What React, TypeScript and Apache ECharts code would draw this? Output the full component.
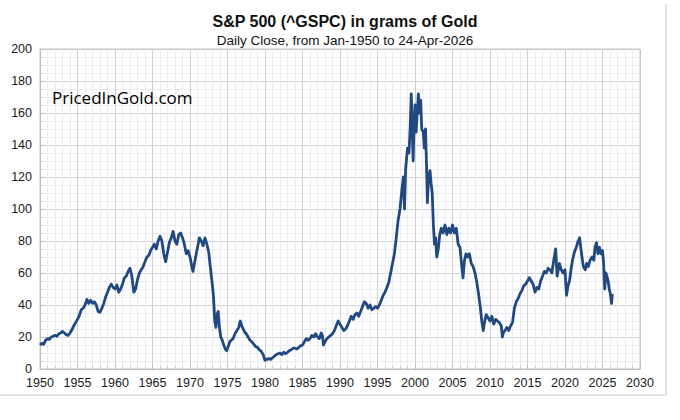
import React, { useEffect, useRef } from "react";
import * as echarts from "echarts";

const TITLE = "S&P 500 (^GSPC) in grams of Gold";
const SUBTITLE = "Daily Close, from Jan-1950 to 24-Apr-2026";
const LOGO = "PricedInGold.com";

const years = [
  1950.0, 1950.25, 1950.5, 1950.75, 1951.0, 1951.25, 1951.5, 1951.75, 1952.0, 1952.25, 1952.5, 1952.75,
  1953.0, 1953.25, 1953.5, 1953.75, 1954.0, 1954.25, 1954.5, 1954.75, 1955.0, 1955.25, 1955.5, 1955.75,
  1956.0, 1956.25, 1956.5, 1956.75, 1957.0, 1957.25, 1957.5, 1957.75, 1958.0, 1958.25, 1958.5, 1958.75,
  1959.0, 1959.25, 1959.5, 1959.75, 1960.0, 1960.25, 1960.5, 1960.75, 1961.0, 1961.25, 1961.5, 1961.75,
  1962.0, 1962.25, 1962.5, 1962.75, 1963.0, 1963.25, 1963.5, 1963.75, 1964.0, 1964.25, 1964.5, 1964.75,
  1965.0, 1965.25, 1965.5, 1965.75, 1966.0, 1966.25, 1966.5, 1966.75, 1967.0, 1967.25, 1967.5, 1967.75,
  1968.0, 1968.25, 1968.5, 1968.75, 1969.0, 1969.25, 1969.5, 1969.75, 1970.0, 1970.25, 1970.4, 1970.75,
  1971.0, 1971.25, 1971.5, 1971.75, 1972.0, 1972.25, 1972.5, 1972.75, 1973.0, 1973.15, 1973.3, 1973.45,
  1973.6, 1973.75, 1973.9, 1974.1, 1974.3, 1974.5, 1974.75, 1974.9, 1975.1, 1975.3, 1975.5, 1975.75,
  1976.0, 1976.25, 1976.5, 1976.7, 1976.9, 1977.1, 1977.3, 1977.5, 1977.75, 1978.0, 1978.25, 1978.5,
  1978.75, 1979.0, 1979.25, 1979.5, 1979.75, 1980.0, 1980.25, 1980.5, 1980.75, 1981.0, 1981.25, 1981.5,
  1981.75, 1982.0, 1982.25, 1982.5, 1982.75, 1983.0, 1983.25, 1983.5, 1983.75, 1984.0, 1984.25, 1984.5,
  1984.75, 1985.0, 1985.25, 1985.5, 1985.75, 1986.0, 1986.25, 1986.5, 1986.75, 1987.0, 1987.25, 1987.5,
  1987.65, 1987.8, 1988.0, 1988.25, 1988.5, 1988.75, 1989.0, 1989.25, 1989.5, 1989.75, 1990.0, 1990.25,
  1990.5, 1990.75, 1991.0, 1991.25, 1991.5, 1991.75, 1992.0, 1992.25, 1992.5, 1992.75, 1993.0, 1993.25,
  1993.5, 1993.75, 1994.0, 1994.25, 1994.5, 1994.75, 1995.0, 1995.25, 1995.5, 1995.75, 1996.0, 1996.25,
  1996.5, 1996.75, 1997.0, 1997.25, 1997.5, 1997.75, 1998.0, 1998.25, 1998.45, 1998.6, 1998.75, 1999.0,
  1999.2, 1999.35, 1999.5, 1999.6, 1999.75, 1999.85, 2000.0, 2000.15, 2000.3, 2000.45, 2000.6, 2000.75,
  2000.9, 2001.1, 2001.25, 2001.4, 2001.55, 2001.65, 2001.8, 2002.0, 2002.15, 2002.3, 2002.45, 2002.6,
  2002.75, 2002.9, 2003.1, 2003.3, 2003.5, 2003.75, 2004.0, 2004.25, 2004.5, 2004.75, 2005.0, 2005.25,
  2005.5, 2005.75, 2006.0, 2006.2, 2006.4, 2006.6, 2006.8, 2007.0, 2007.25, 2007.5, 2007.75, 2008.0,
  2008.25, 2008.5, 2008.7, 2008.9, 2009.1, 2009.3, 2009.5, 2009.75, 2010.0, 2010.25, 2010.5, 2010.75,
  2011.0, 2011.25, 2011.5, 2011.65, 2011.8, 2012.0, 2012.25, 2012.5, 2012.75, 2013.0, 2013.25, 2013.5,
  2013.75, 2014.0, 2014.25, 2014.5, 2014.75, 2015.0, 2015.25, 2015.5, 2015.75, 2016.0, 2016.25, 2016.5,
  2016.75, 2017.0, 2017.25, 2017.5, 2017.75, 2018.0, 2018.25, 2018.5, 2018.75, 2018.95, 2019.25, 2019.5,
  2019.75, 2020.0, 2020.2, 2020.4, 2020.6, 2020.8, 2021.0, 2021.25, 2021.5, 2021.75, 2021.95, 2022.2,
  2022.45, 2022.7, 2022.9, 2023.1, 2023.35, 2023.6, 2023.85, 2024.0, 2024.2, 2024.4, 2024.6, 2024.8,
  2025.0, 2025.15, 2025.3, 2025.45, 2025.6, 2025.75, 2025.9, 2026.05, 2026.2, 2026.31,
];

const grams = [
  15, 16, 15.5, 18, 19, 18.5, 20, 20.5, 21, 20.5, 22, 22.5,
  23.5, 22.5, 21.5, 21, 22.5, 24.5, 27, 29, 31, 33.5, 37, 38,
  40, 43.5, 41, 43, 41, 42, 40, 36, 35.5, 38, 41, 45,
  48, 51, 53, 51, 50, 52.5, 48, 50, 53, 57, 58, 61,
  63, 58, 48, 50, 56, 60, 62, 64, 67, 70, 71, 74,
  76, 78, 75, 80, 83, 80, 72, 67, 73, 79, 82, 86,
  80, 78, 84, 85, 82, 78, 72, 74, 70, 64, 61, 70,
  76, 82, 80, 77, 82, 78, 73, 62, 52, 44, 30, 26,
  34, 36, 27, 20, 18, 15, 12, 11.5, 14, 17, 18, 19,
  22, 24, 26, 30, 27, 25, 23, 22, 20, 18, 17, 15.5,
  14, 13.5, 12, 11, 9, 5.5, 6, 6.5, 6, 7, 8, 9,
  9.5, 10, 9, 10.5, 9.5, 10.5, 11.5, 12, 13, 13, 12.5, 13.5,
  14.5, 15, 17, 19, 18, 19, 21, 20, 22, 20, 19, 22.5,
  21, 15, 17, 19, 20, 21, 22, 24, 27, 30, 28, 26,
  24, 25, 27, 30, 33, 31, 34, 35, 33, 36, 39, 42,
  41, 38, 40, 37, 38, 39, 38, 40, 43, 46, 48, 51,
  54, 60, 66, 72, 82, 93, 100, 112, 120, 100, 125, 138,
  135, 150, 172, 155, 130, 150, 165, 148, 160, 172, 160, 168,
  150, 148, 138, 150, 125, 104, 118, 124, 116, 110, 90, 78,
  82, 70, 75, 84, 88, 85, 90, 84, 88, 85, 90, 85,
  88, 78, 76, 66, 57, 68, 72, 70, 72, 66, 64, 60,
  54, 46, 39, 30, 24, 30, 34, 32, 30, 33, 28, 31,
  30, 29, 27, 20, 23, 24, 26, 24, 27, 29, 38, 42,
  44, 47, 49, 52, 53, 55, 57, 55, 53, 48, 51, 50,
  55, 58, 61, 60, 63, 62, 60, 68, 75, 58, 66, 62,
  60, 62, 46, 52, 55, 62, 68, 73, 76, 80, 82, 72,
  64, 62, 66, 64, 68, 70, 68, 76, 79, 72, 76, 72,
  74, 66, 50, 60, 58, 55, 50, 47, 41, 47,
];

const X_MIN = 1950;
const X_MAX = 2030;
const X_STEP = 5;
const Y_MIN = 0;
const Y_MAX = 200;
const Y_STEP = 20;

export default function App() {
  const ref = useRef<HTMLDivElement>(null);
  useEffect(() => {
    document.body.style.margin = "0";
    if (!ref.current) return;
    const chart = echarts.init(ref.current, undefined, { renderer: "svg" });
    const font = "Liberation Sans, Arial, sans-serif";
    chart.setOption({
      animation: false,
      backgroundColor: "#ffffff",
      textStyle: { fontFamily: font },
      title: {
        text: TITLE,
        subtext: SUBTITLE,
        left: 340,
        textAlign: "center",
        top: 8,
        itemGap: 4,
        textStyle: { fontSize: 16, fontWeight: "bold", color: "#111", fontFamily: font },
        subtextStyle: { fontSize: 13.5, color: "#111", fontFamily: font },
      },
      grid: { left: 40, right: 40, top: 49, bottom: 51, containLabel: false },
      xAxis: {
        type: "value",
        min: X_MIN,
        max: X_MAX,
        interval: X_STEP,
        axisLine: { show: true, onZero: false, lineStyle: { color: "#b8b8b8", width: 1 } },
        axisTick: { show: true, inside: true, length: 4, lineStyle: { color: "#b8b8b8" } },
        minorTick: { show: true, splitNumber: 5, length: 3, lineStyle: { color: "#c8c8c8" } },
        axisLabel: { color: "#1a1a1a", fontSize: 12.5, margin: 7, fontFamily: font, formatter: (v: number) => String(v) },
        splitLine: { show: true, lineStyle: { color: "#d0d0d4", width: 1 } },
        minorSplitLine: { show: true, lineStyle: { color: "#ebebf3", width: 1 } },
      },
      yAxis: {
        type: "value",
        min: Y_MIN,
        max: Y_MAX,
        interval: Y_STEP,
        axisLine: { show: true, lineStyle: { color: "#b8b8b8", width: 1 } },
        axisTick: { show: true, inside: true, length: 4, lineStyle: { color: "#b8b8b8" } },
        minorTick: { show: true, splitNumber: 4, length: 3, lineStyle: { color: "#c8c8c8" } },
        axisLabel: { color: "#1a1a1a", fontSize: 12.5, margin: 8, fontFamily: font },
        splitLine: { show: true, lineStyle: { color: "#d0d0d4", width: 1 } },
        minorSplitLine: { show: true, lineStyle: { color: "#ebebf3", width: 1 } },
      },
      series: [
        {
          type: "line",
          data: years.map((y, i) => [y, grams[i]]),
          showSymbol: false,
          symbol: "none",
          lineStyle: { color: "#21487f", width: 2.8, join: "round" },
          z: 5,
        },
      ],
      graphic: [
        {
          type: "rect",
          shape: { x: 40, y: 49, width: 600, height: 320 },
          style: { fill: "none", stroke: "#c4c4c4", lineWidth: 1 },
          silent: true,
          z: 4,
        },
        {
          type: "text",
          left: 52,
          top: 89,
          style: { text: LOGO, fontSize: 17, fontFamily: "Open Sans, DejaVu Sans, sans-serif", fontWeight: "normal", fill: "#000" },
          z: 6,
        },
        {
          type: "line",
          shape: { x1: 666, y1: 4, x2: 666, y2: 395 },
          style: { stroke: "#e2e2e2", lineWidth: 2 },
          silent: true,
        },
        {
          type: "line",
          shape: { x1: 0, y1: 395, x2: 666, y2: 395 },
          style: { stroke: "#e2e2e2", lineWidth: 2 },
          silent: true,
        },
      ],
    });
    return () => chart.dispose();
  }, []);
  return <div ref={ref} style={{ width: 680, height: 420 }} />;
}
